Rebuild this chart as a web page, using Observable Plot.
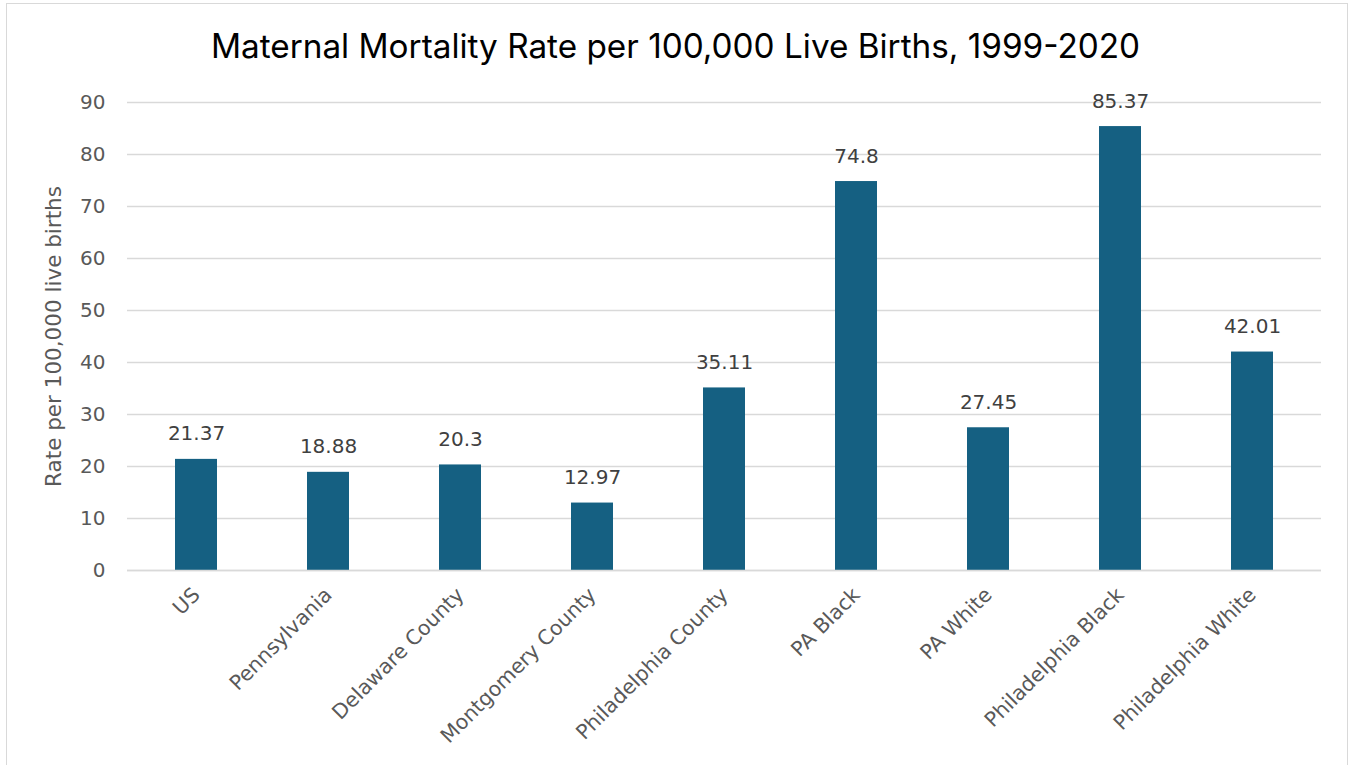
<!DOCTYPE html>
<html>
<head>
<meta charset="utf-8">
<script src="https://cdn.jsdelivr.net/npm/d3@7"></script>
<script src="https://cdn.jsdelivr.net/npm/@observablehq/plot@0.6"></script>
<style>
  html, body { margin: 0; padding: 0; background: #fff; }
  #wrap { position: relative; width: 1351px; height: 765px; overflow: hidden; font-family: Inter, "Open Sans", sans-serif; }
  #frame { position: absolute; left: 6px; top: 3px; width: 1342px; height: 800px; border: 1px solid #d9d9d9; box-sizing: border-box; }
  #title { position: absolute; left: 0; width: 1351px; top: 26px; text-align: center; font-size: 33.3px; line-height: 40px; color: #000; }
  #chart { position: absolute; left: 0; top: 80px; }
</style>
</head>
<body>
<div id="wrap">
  <div id="frame"></div>
  <div id="title">Maternal Mortality Rate per 100,000 Live Births, 1999-2020</div>
  <div id="chart"></div>
</div>
<script>
const categories = ["US", "Pennsylvania", "Delaware County", "Montgomery County", "Philadelphia County", "PA Black", "PA White", "Philadelphia Black", "Philadelphia White"];
const rates = [21.37, 18.88, 20.3, 12.97, 35.11, 74.8, 27.45, 85.37, 42.01];
const rateLabels = ["21.37", "18.88", "20.3", "12.97", "35.11", "74.8", "27.45", "85.37", "42.01"];
const yTicks = [0, 10, 20, 30, 40, 50, 60, 70, 80, 90];

const data = categories.map((c, i) => ({category: c, rate: rates[i], label: rateLabels[i]}));

const FONT = "'DejaVu Sans', sans-serif";

const chart = Plot.plot({
  width: 1351,
  height: 685,
  marginTop: 22,
  marginBottom: 195,
  marginLeft: 127,
  marginRight: 30,
  style: {fontFamily: FONT, fontSize: "20px", color: "#595959", background: "transparent", overflow: "visible"},
  x: {domain: categories, paddingInner: 0.685, paddingOuter: 0.3425, label: null},
  y: {domain: [0, 90], label: null},
  marks: [
    Plot.gridY(yTicks, {stroke: "#d9d9d9", strokeOpacity: 1, strokeWidth: 1.5}),
    Plot.axisY(yTicks, {tickSize: 0, tickPadding: 22, fill: "#595959", fontSize: 20, fontFamily: FONT, label: null}),
    Plot.axisY({ticks: [], label: "Rate per 100,000 live births", labelAnchor: "center", labelArrow: "none", labelOffset: 82, fontSize: 21.5, fontFamily: FONT, fill: "#595959", tickSize: 0}),
    Plot.barY(data, {x: "category", y: "rate", fill: "#156082"}),
    Plot.ruleY([0], {stroke: "#d9d9d9", strokeWidth: 1.5}),
    Plot.text(data, {x: "category", y: "rate", text: "label", lineAnchor: "bottom", dy: -19, fill: "#404040", fontSize: 20, fontFamily: FONT}),
    Plot.axisX({tickSize: 0, tickPadding: 21, tickRotate: -45, fill: "#595959", fontSize: 20.5, fontFamily: FONT, label: null})
  ]
});
document.getElementById("chart").appendChild(chart);
</script>
</body>
</html>
